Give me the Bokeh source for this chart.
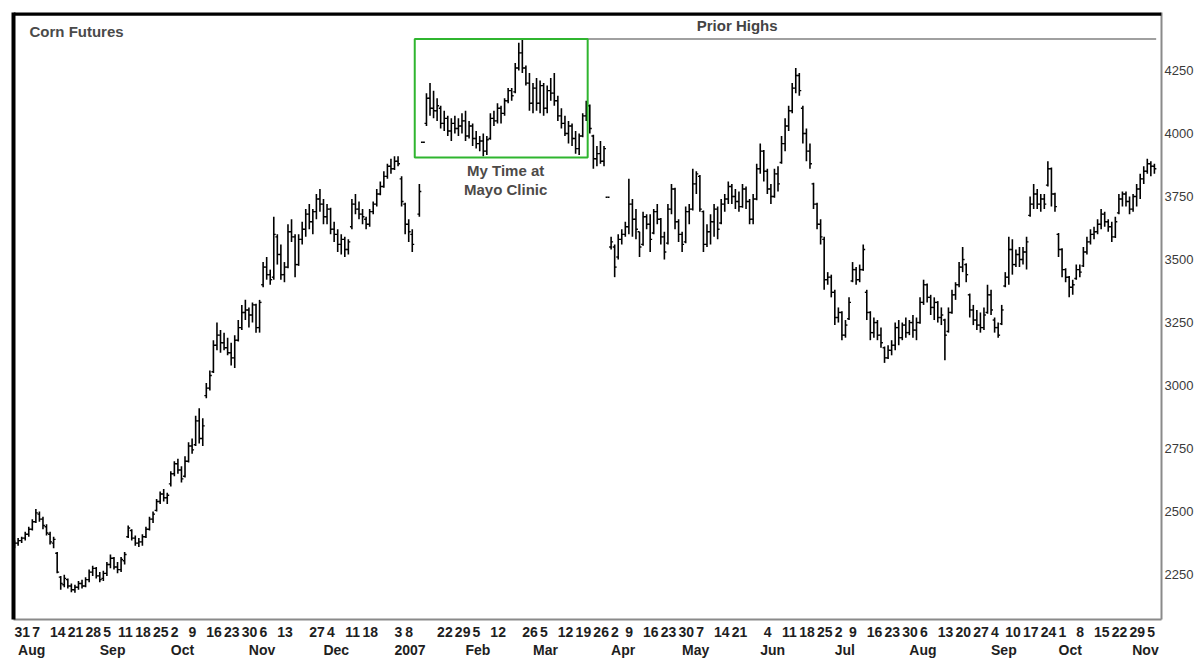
from bokeh.plotting import figure
from bokeh.models import (LinearAxis, FixedTicker, Range1d, BoxAnnotation, Label, Span,
                          ColumnDataSource, CustomJSTickFormatter)
from bokeh.embed import file_html
from bokeh.resources import INLINE

# ---------------- data (daily bars, index = trading day from 31 Jul 2006) ----------------
opens = [
    2360, 2375, 2385, 2395, 2410, 2430, 2460, 2490, 2470, 2440,
    2410, 2375, 2335, 2240, 2210, 2230, 2205, 2190, 2200, 2215,
    2205, 2230, 2260, 2275, 2245, 2235, 2255, 2290, 2315, 2280,
    2270, 2305, 2400, 2425, 2395, 2375, 2380, 2400, 2430, 2470,
    2505, 2540, 2570, 2555, 2610, 2650, 2690, 2665, 2640, 2700,
    2760, 2765, 2860, 2790, 2960, 2990, 3055, 3160, 3200, 3170,
    3150, 3130, 3110, 3180, 3230, 3290, 3300, 3280, 3320, 3230,
    3400, 3470, 3440, 3430, 3590, 3520, 3440, 3470, 3610, 3590,
    3480, 3580, 3620, 3680, 3650, 3690, 3740, 3720, 3670, 3700,
    3620, 3600, 3560, 3580, 3540, 3630, 3720, 3700, 3680, 3660,
    3640, 3690, 3720, 3760, 3790, 3830, 3870, 3860, 3890, 3820,
    3720, 3640, 3600, None, 3680, 3965, 4040, 4140, 4100, 4090,
    4100, 4040, 4060, 4010, 4040, 4020, 4030, 4050, 3990, 4030,
    3980, 3960, 3970, 3930, 3980, 4060, 4050, 4100, 4080, 4130,
    4170, 4165, 4260, 4320, 4260, 4200, 4120, 4180, 4120, 4190,
    4100, 4170, 4160, 4130, 4070, 4040, 4000, 4030, 3980, 3940,
    3990, 4070, 4110, 3990, 3900, 3920, 3890, 3747, 3550, 3550,
    3510, 3580, 3600, 3630, 3720, 3660, 3610, 3560, 3670, 3640,
    3605, 3690, 3660, 3590, 3565, 3700, 3780, 3650, 3600, 3570,
    3690, 3700, 3800, 3830, 3690, 3560, 3610, 3650, 3700, 3645,
    3720, 3740, 3790, 3750, 3730, 3710, 3780, 3730, 3660, 3740,
    3860, 3930, 3850, 3780, 3750, 3840, 3885, 3960, 4030, 4090,
    4180, 4230, 4100, 4000, 3930, 3800, 3720, 3640, 3580, 3420,
    3430, 3370, 3270, 3290, 3200, 3265, 3415, 3460, 3420, 3460,
    3370, 3290, 3210, 3250, 3200, 3150, 3110, 3140, 3160, 3230,
    3190, 3240, 3210, 3250, 3220, 3250, 3330, 3400, 3350, 3310,
    3330, 3270, 3260, 3215, 3290, 3360, 3400, 3470, 3480, 3360,
    3300, 3260, 3240, 3230, 3290, 3360, 3260, 3230, 3245, 3395,
    3430, 3540, 3480, 3520, 3500, 3530, 3675, 3720, 3760, 3720,
    3740, 3795, 3860, 3760, 3600, 3540, 3460, 3430, 3390, 3425,
    3460, 3475, 3530, 3570, 3600, 3610, 3640, 3680, 3650, 3630,
    3590, 3685, 3740, 3760, 3730, 3700, 3750, 3780, 3820, 3850,
    3880, 3870,
]
highs = [
    2385, 2395, 2400, 2420, 2440, 2470, 2510, 2500, 2480, 2450,
    2420, 2400, 2340, 2245, 2250, 2235, 2215, 2210, 2225, 2230,
    2240, 2270, 2285, 2280, 2260, 2265, 2300, 2330, 2320, 2300,
    2320, 2340, 2445, 2430, 2405, 2395, 2410, 2440, 2480, 2500,
    2550, 2580, 2590, 2575, 2660, 2700, 2710, 2680, 2720, 2775,
    2790, 2880, 2910, 2870, 3010, 3060, 3180, 3250, 3220, 3210,
    3190, 3170, 3200, 3260, 3320, 3340, 3310, 3330, 3325, 3340,
    3490, 3510, 3460, 3670, 3600, 3560, 3490, 3640, 3660, 3600,
    3600, 3650, 3700, 3720, 3700, 3760, 3780, 3740, 3720, 3705,
    3650, 3620, 3600, 3590, 3580, 3740, 3760, 3730, 3700, 3670,
    3700, 3730, 3780, 3810, 3850, 3880, 3900, 3910, 3910, 3830,
    3725, 3660, 3620, None, 3800, 3965, 4160, 4200, 4170, 4140,
    4110, 4090, 4070, 4060, 4070, 4060, 4080, 4090, 4050, 4040,
    4010, 3990, 4000, 3990, 4080, 4090, 4120, 4110, 4140, 4180,
    4180, 4280, 4360, 4375, 4270, 4240, 4200, 4220, 4210, 4200,
    4190, 4220, 4240, 4150, 4100, 4070, 4050, 4040, 4010, 4000,
    4080, 4130, 4115, 3995, 3950, 3970, 3950, 3747, 3590, 3560,
    3600, 3620, 3650, 3820, 3740, 3700, 3610, 3690, 3680, 3680,
    3700, 3720, 3665, 3610, 3720, 3800, 3785, 3660, 3610, 3710,
    3720, 3860, 3850, 3835, 3695, 3640, 3680, 3720, 3710, 3740,
    3760, 3810, 3800, 3780, 3770, 3800, 3790, 3740, 3760, 3880,
    3960, 3935, 3860, 3800, 3860, 3870, 3990, 4060, 4110, 4200,
    4260, 4240, 4110, 4020, 3960, 3805, 3725, 3660, 3590, 3450,
    3440, 3380, 3310, 3295, 3260, 3350, 3490, 3470, 3480, 3560,
    3380, 3295, 3270, 3260, 3230, 3155, 3160, 3180, 3250, 3260,
    3250, 3270, 3260, 3280, 3270, 3350, 3420, 3405, 3360, 3350,
    3335, 3310, 3265, 3310, 3380, 3410, 3490, 3550, 3485, 3365,
    3320, 3300, 3290, 3310, 3400, 3380, 3270, 3250, 3320, 3450,
    3590, 3580, 3540, 3550, 3550, 3590, 3750, 3800, 3780, 3760,
    3760, 3890, 3865, 3765, 3605, 3545, 3465, 3435, 3420, 3480,
    3480, 3550, 3590, 3620, 3630, 3660, 3700, 3690, 3660, 3650,
    3670, 3760, 3770, 3770, 3750, 3760, 3800, 3840, 3870, 3900,
    3890, 3880,
]
lows = [
    2355, 2365, 2375, 2385, 2400, 2425, 2455, 2460, 2430, 2405,
    2370, 2355, 2255, 2190, 2200, 2195, 2180, 2178, 2190, 2195,
    2200, 2220, 2245, 2235, 2220, 2225, 2245, 2275, 2270, 2255,
    2260, 2290, 2395, 2385, 2365, 2360, 2365, 2395, 2425, 2455,
    2500, 2530, 2540, 2530, 2600, 2640, 2650, 2615, 2635, 2695,
    2730, 2760, 2770, 2760, 2950, 2980, 3050, 3140, 3130, 3140,
    3120, 3080, 3070, 3175, 3220, 3260, 3230, 3250, 3210, 3210,
    3390, 3420, 3400, 3420, 3480, 3420, 3410, 3465, 3570, 3430,
    3475, 3560, 3590, 3620, 3600, 3660, 3690, 3640, 3640, 3600,
    3570, 3530, 3520, 3510, 3520, 3620, 3680, 3660, 3640, 3620,
    3630, 3680, 3710, 3755, 3785, 3820, 3840, 3855, 3870, 3710,
    3600, 3570, 3530, None, 3670, 3965, 4030, 4070, 4060, 4050,
    4020, 4010, 3990, 3970, 4000, 3990, 4000, 3970, 3980, 3950,
    3940, 3930, 3910, 3915, 3975, 4030, 4040, 4040, 4070, 4120,
    4130, 4160, 4250, 4240, 4190, 4090, 4080, 4090, 4080, 4070,
    4080, 4130, 4110, 4050, 4020, 3990, 3960, 3950, 3920, 3915,
    3985, 4050, 4000, 3860, 3870, 3880, 3870, 3747, 3540, 3430,
    3500, 3560, 3590, 3600, 3590, 3580, 3510, 3555, 3620, 3530,
    3600, 3640, 3560, 3500, 3560, 3680, 3620, 3570, 3530, 3565,
    3640, 3695, 3760, 3690, 3530, 3550, 3560, 3590, 3580, 3640,
    3690, 3720, 3720, 3700, 3690, 3705, 3700, 3640, 3640, 3735,
    3840, 3810, 3760, 3720, 3745, 3770, 3880, 3930, 4010, 4080,
    4160, 4150, 3960, 3890, 3860, 3700, 3620, 3560, 3380, 3400,
    3350, 3240, 3250, 3180, 3190, 3260, 3410, 3400, 3410, 3455,
    3260, 3180, 3190, 3180, 3150, 3090, 3105, 3120, 3140, 3160,
    3180, 3190, 3200, 3190, 3180, 3245, 3320, 3330, 3280, 3260,
    3250, 3240, 3100, 3210, 3285, 3340, 3390, 3450, 3410, 3270,
    3240, 3220, 3210, 3220, 3285, 3280, 3210, 3190, 3240, 3390,
    3400, 3440, 3470, 3470, 3480, 3460, 3670, 3700, 3700, 3690,
    3700, 3790, 3710, 3690, 3510, 3430, 3410, 3350, 3360, 3420,
    3430, 3470, 3520, 3560, 3580, 3600, 3620, 3630, 3610, 3570,
    3585, 3680, 3710, 3710, 3680, 3690, 3710, 3740, 3800, 3840,
    3830, 3840,
]
closes = [
    2375, 2385, 2395, 2410, 2430, 2460, 2495, 2470, 2445, 2415,
    2380, 2390, 2260, 2215, 2235, 2205, 2190, 2200, 2215, 2205,
    2230, 2260, 2275, 2245, 2230, 2255, 2290, 2315, 2280, 2270,
    2310, 2330, 2435, 2395, 2375, 2380, 2400, 2430, 2470, 2490,
    2540, 2570, 2555, 2565, 2650, 2690, 2665, 2630, 2700, 2760,
    2745, 2860, 2790, 2840, 2990, 3040, 3160, 3200, 3170, 3150,
    3130, 3110, 3180, 3230, 3290, 3300, 3280, 3320, 3230, 3330,
    3470, 3440, 3420, 3600, 3520, 3440, 3470, 3610, 3590, 3480,
    3580, 3620, 3680, 3650, 3690, 3740, 3720, 3670, 3700, 3620,
    3600, 3560, 3580, 3540, 3570, 3720, 3700, 3680, 3670, 3640,
    3690, 3720, 3760, 3790, 3830, 3870, 3860, 3890, 3880, 3730,
    3640, 3610, 3560, None, 3770, 3965, 4140, 4100, 4090, 4110,
    4040, 4060, 4010, 4040, 4020, 4030, 4050, 3990, 4030, 3980,
    3960, 3970, 3930, 3975, 4060, 4050, 4100, 4080, 4130, 4170,
    4150, 4260, 4320, 4260, 4200, 4120, 4180, 4120, 4190, 4100,
    4170, 4160, 4130, 4070, 4040, 4000, 4030, 3980, 3940, 3990,
    4070, 4110, 4020, 3900, 3920, 3890, 3940, 3747, 3570, 3470,
    3580, 3600, 3630, 3720, 3660, 3620, 3550, 3670, 3640, 3580,
    3690, 3660, 3590, 3530, 3700, 3780, 3650, 3600, 3560, 3690,
    3700, 3800, 3840, 3700, 3560, 3610, 3650, 3700, 3620, 3720,
    3740, 3790, 3750, 3730, 3710, 3780, 3730, 3660, 3740, 3860,
    3930, 3850, 3780, 3750, 3840, 3800, 3960, 4030, 4090, 4180,
    4230, 4170, 4000, 3930, 3880, 3720, 3640, 3590, 3420, 3430,
    3370, 3270, 3290, 3200, 3240, 3330, 3460, 3420, 3460, 3540,
    3290, 3210, 3250, 3200, 3170, 3110, 3140, 3160, 3230, 3190,
    3240, 3210, 3250, 3220, 3250, 3330, 3400, 3350, 3310, 3330,
    3270, 3280, 3200, 3290, 3360, 3400, 3470, 3500, 3440, 3300,
    3260, 3240, 3230, 3280, 3360, 3300, 3230, 3200, 3300, 3430,
    3540, 3480, 3520, 3500, 3530, 3570, 3720, 3760, 3720, 3740,
    3720, 3860, 3760, 3710, 3540, 3460, 3430, 3390, 3400, 3460,
    3450, 3530, 3570, 3600, 3610, 3640, 3680, 3650, 3630, 3590,
    3650, 3740, 3760, 3730, 3700, 3750, 3780, 3820, 3850, 3880,
    3870, 3860,
]

# first trading day of each week that carries a label, and its label
day_bars = [0, 5, 10, 15, 20, 25, 29, 34, 39, 44, 49, 54, 59, 64, 69, 74, 83, 88, 93, 98,
            107, 110, 119, 124, 129, 134, 143, 148, 153, 158, 163, 168, 172, 177, 182, 187,
            192, 197, 202, 211, 216, 221, 226, 231, 235, 240, 245, 250, 255, 260, 265, 270,
            275, 279, 284, 289, 294, 299, 304, 309, 314, 319]
day_labels = ["31", "7", "14", "21", "28", "5", "11", "18", "25", "2", "9", "16", "23", "30",
              "6", "13", "27", "4", "11", "18", "3", "8", "22", "29", "5", "12", "26", "5",
              "12", "19", "26", "2", "9", "16", "23", "30", "7", "14", "21", "4", "11", "18",
              "25", "2", "9", "16", "23", "30", "6", "13", "20", "27", "4", "10", "17", "24",
              "1", "8", "15", "22", "29", "5"]
# first trading day of each month
month_bars = [1, 24, 44, 66, 87, 107, 127, 146, 168, 188, 210, 231, 252, 275, 294, 317]
month_labels = ["Aug", "Sep", "Oct", "Nov", "Dec", "2007", "Feb", "Mar", "Apr", "May",
                "Jun", "Jul", "Aug", "Sep", "Oct", "Nov"]
price_ticks = [2250, 2500, 2750, 3000, 3250, 3500, 3750, 4000, 4250]

# ---------------- styling helpers ----------------
FONT = "Liberation Sans"
BOLD_W = {c: 556 for c in "0123456789"}
BOLD_W.update({"A": 722, "u": 611, "g": 611, "S": 667, "e": 556, "p": 611, "O": 778,
               "c": 556, "t": 333, "N": 722, "o": 611, "v": 556, "D": 722, "F": 611,
               "b": 611, "M": 833, "a": 556, "r": 389, "y": 556, "J": 556, "n": 611,
               "l": 278})


def text_w(s, px):
    return sum(BOLD_W.get(ch, 600) for ch in s) * px / 1000.0


X_START, X_END = -0.3, 323.0
Y_START, Y_END = 2072, 4480
PPB = 3.56             # approx. pixels per bar on screen
LBL_PX = 14

day_pos = [round(b + text_w(t, LBL_PX) / 2 / PPB, 2) for b, t in zip(day_bars, day_labels)]
month_pos = []
for b, t in zip(month_bars, month_labels):
    half = text_w(t, LBL_PX) / 2 / PPB
    month_pos.append(round(min(b + half, X_END - half - 0.8), 2))

valid = [i for i, h in enumerate(highs) if h is not None]
TICK = 0.55
src = ColumnDataSource(dict(
    x=valid,
    xo=[i - TICK for i in valid],
    xc=[i + TICK for i in valid],
    o=[opens[i] for i in valid],
    h=[highs[i] for i in valid],
    l=[lows[i] for i in valid],
    c=[closes[i] for i in valid],
))

p = figure(width=1196, height=667, x_range=Range1d(X_START, X_END),
           y_range=Range1d(Y_START, Y_END), y_axis_location="right",
           output_backend="svg", toolbar_location=None,
           min_border_left=13, min_border_top=12, min_border_bottom=48, min_border_right=0,
           background_fill_color="white", border_fill_color="white")
p.grid.visible = False
p.outline_line_color = None

# right price axis
ya = p.yaxis[0]
ya.ticker = FixedTicker(ticks=price_ticks)
ya.major_tick_line_color = None
ya.minor_tick_line_color = None
ya.major_tick_out = 0
ya.major_tick_in = 0
ya.minor_tick_out = 0
ya.major_label_standoff = 3
ya.axis_line_color = "#8a8a8a"
ya.axis_line_width = 2
ya.major_label_text_font = FONT
ya.major_label_text_font_size = "13px"
ya.major_label_text_color = "#3a3a3a"

JS = """
let best = 0, bd = Infinity;
for (let i = 0; i < pos.length; i++) {
  const d = Math.abs(pos[i] - tick);
  if (d < bd) { bd = d; best = i; }
}
return labs[best];
"""

# day-number axis
xa = p.xaxis[0]
xa.ticker = FixedTicker(ticks=day_pos)
xa.formatter = CustomJSTickFormatter(args=dict(pos=day_pos, labs=day_labels), code=JS)
xa.major_tick_line_color = None
xa.minor_tick_line_color = None
xa.major_tick_out = 0
xa.major_tick_in = 0
xa.minor_tick_out = 0
xa.axis_line_color = "#8a8a8a"
xa.axis_line_width = 2
xa.major_label_standoff = 7
xa.major_label_text_font = FONT
xa.major_label_text_font_size = f"{LBL_PX}px"
xa.major_label_text_font_style = "bold"
xa.major_label_text_color = "#1e1e1e"

# month axis
ma = LinearAxis(ticker=FixedTicker(ticks=month_pos),
                formatter=CustomJSTickFormatter(args=dict(pos=month_pos, labs=month_labels), code=JS),
                axis_line_color=None, major_tick_line_color=None, minor_tick_line_color=None,
                major_tick_out=0, major_tick_in=0, minor_tick_out=0, major_label_standoff=2,
                major_label_text_font=FONT, major_label_text_font_size=f"{LBL_PX}px",
                major_label_text_font_style="bold", major_label_text_color="#1e1e1e")
p.add_layout(ma, "below")

# thick black left border line
lax = LinearAxis(ticker=FixedTicker(ticks=[]), axis_line_color="black", axis_line_width=4,
                 major_tick_line_color=None, minor_tick_line_color=None,
                 major_tick_out=0, major_tick_in=0, minor_tick_out=0,
                 major_label_standoff=0, major_label_text_font_size="0px")
p.add_layout(lax, "left")
# thick black top border line (just inside the frame top)
p.add_layout(Span(location=Y_END - 5, dimension="width", line_color="black", line_width=4))

# OHLC bars
p.segment(x0="x", y0="l", x1="x", y1="h", source=src, line_color="black", line_width=1.6)
p.segment(x0="xo", y0="o", x1="x", y1="o", source=src, line_color="black", line_width=1.4)
p.segment(x0="x", y0="c", x1="xc", y1="c", source=src, line_color="black", line_width=1.4)

# prior high line + highlighted box
box_first, box_last = 115, 161
prior_high = max(h for h in highs[box_first:box_last + 1] if h is not None)
peak_i = highs.index(prior_high)
p.segment(x0=[peak_i], y0=[prior_high], x1=[len(highs) - 0.5], y1=[prior_high],
          line_color="#a0a0a0", line_width=2)
p.add_layout(BoxAnnotation(left=112.7, right=161.4, bottom=3905, top=prior_high,
                           fill_color=None, fill_alpha=0, line_color="#2fb52f",
                           line_alpha=1.0, line_width=2))

TXT = dict(text_font=FONT, text_font_size="15px", text_font_style="bold")
p.add_layout(Label(x=203.5, y=prior_high, y_offset=13, text="Prior Highs",
                   text_align="center", text_baseline="middle", text_color="#444444", **TXT))
p.add_layout(Label(x=4.2, y=4405, text="Corn Futures", text_align="left",
                   text_baseline="middle", text_color="#4a4a4a", **TXT))
p.add_layout(Label(x=138.3, y=3853, text="My Time at", text_align="center",
                   text_baseline="middle", text_color="#4d4a48", **TXT))
p.add_layout(Label(x=138.3, y=3778, text="Mayo Clinic", text_align="center",
                   text_baseline="middle", text_color="#4d4a48", **TXT))

open("out.html", "w").write(file_html(p, INLINE))
